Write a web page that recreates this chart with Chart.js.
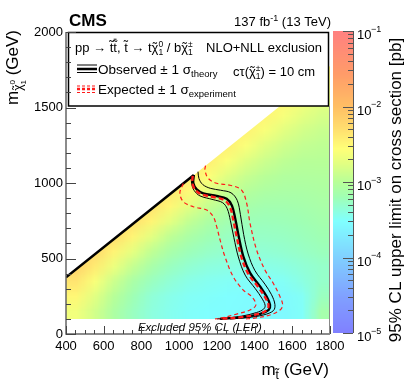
<!DOCTYPE html>
<html lang="en">
<head>
  <meta charset="UTF-8">
  <title>Stop pair exclusion limit</title>
  <script src="https://cdn.jsdelivr.net/npm/chart.js"></script>
  <style>
    body { margin: 0; background: #fff; }
    canvas { display: block; }
  </style>
</head>
<body>
  <canvas id="limitChart" width="407" height="391"></canvas>

  <script>
    const FONT = "'Liberation Sans', Arial, Helvetica, sans-serif";

    // colour map: cell centres in GeV, value = log10(95% CL limit / pb)
    const stopMass = [450, 550, 650, 750, 850, 950, 1050, 1150, 1250, 1350, 1450, 1550, 1650, 1750];
    const lspMass = [150, 250, 350, 450, 550, 650, 750, 850, 950, 1050, 1150, 1250, 1350, 1450, 1550, 1650, 1750];
    const _ = null;
    const logLimit = [
      [-2.65, -2.85, -3.08, -3.25, -3.38, -3.45, -3.5, -3.52, -3.53, -3.55, -3.56, -3.57, -3.5, -3.15],
      [-2.5, -2.75, -3.0, -3.2, -3.35, -3.43, -3.48, -3.5, -3.52, -3.54, -3.56, -3.56, -3.48, -3.25],
      [-2.35, -2.6, -2.88, -3.1, -3.25, -3.35, -3.42, -3.46, -3.48, -3.5, -3.5, -3.48, -3.4, -3.3],
      [-2.2, -2.4, -2.68, -2.92, -3.12, -3.25, -3.33, -3.38, -3.4, -3.42, -3.42, -3.4, -3.35, -3.3],
      [_, -2.25, -2.47, -2.72, -2.95, -3.12, -3.22, -3.28, -3.32, -3.34, -3.34, -3.32, -3.28, -3.24],
      [_, _, -2.28, -2.48, -2.74, -2.96, -3.1, -3.2, -3.26, -3.28, -3.28, -3.27, -3.24, -3.2],
      [_, _, _, -2.3, -2.48, -2.74, -2.94, -3.08, -3.17, -3.22, -3.23, -3.22, -3.2, -3.16],
      [_, _, _, _, -2.32, -2.5, -2.74, -2.92, -3.05, -3.13, -3.17, -3.17, -3.15, -3.12],
      [_, _, _, _, _, -2.35, -2.52, -2.74, -2.9, -3.02, -3.08, -3.1, -3.1, -3.08],
      [_, _, _, _, _, _, -2.4, -2.56, -2.76, -2.9, -2.99, -3.04, -3.05, -3.04],
      [_, _, _, _, _, _, _, -2.42, -2.58, -2.76, -2.88, -2.96, -3.0, -3.0],
      [_, _, _, _, _, _, _, _, -2.44, -2.59, -2.75, -2.86, -2.93, -2.96],
      [_, _, _, _, _, _, _, _, _, -2.46, -2.6, -2.74, -2.84, -2.9],
      [_, _, _, _, _, _, _, _, _, _, -2.48, -2.61, -2.73, -2.82],
      [_, _, _, _, _, _, _, _, _, _, _, -2.5, -2.62, -2.73],
      [_, _, _, _, _, _, _, _, _, _, _, _, -2.5, -2.63],
      [_, _, _, _, _, _, _, _, _, _, _, _, _, -2.52]
    ];

    // contours [m(stop), m(LSP)] in GeV
    const observed = [[1078, 1053], [1075, 1000], [1093, 958], [1128, 932], [1199, 914], [1252, 895], [1280, 850],
      [1298, 760], [1316, 645], [1340, 515], [1376, 405], [1429, 315], [1464, 248], [1482, 192], [1475, 160],
      [1430, 133], [1340, 112], [1217, 100]];
    const observedUp = [[1100, 1075], [1105, 1030], [1125, 990], [1165, 965], [1220, 952], [1275, 935], [1308, 885],
      [1325, 790], [1342, 660], [1366, 530], [1402, 420], [1455, 330], [1490, 260], [1508, 195], [1500, 155],
      [1450, 127], [1360, 108], [1270, 100]];
    const observedDown = [[1065, 1040], [1066, 995], [1080, 950], [1110, 915], [1180, 890], [1230, 870], [1255, 830],
      [1272, 750], [1290, 640], [1314, 510], [1350, 390], [1404, 300], [1438, 238], [1456, 190], [1448, 165],
      [1410, 142], [1330, 118], [1240, 104], [1200, 100]];
    const expected = [[1072, 1047], [1070, 1000], [1085, 955], [1120, 925], [1190, 905], [1242, 885], [1270, 840],
      [1288, 750], [1306, 640], [1330, 510], [1366, 400], [1420, 310], [1455, 245], [1474, 192], [1466, 160],
      [1420, 133], [1330, 112], [1210, 100]];
    const expectedUp = [[1140, 1115], [1137, 1086], [1154, 1031], [1199, 998], [1270, 985], [1330, 955], [1358, 866],
      [1376, 733], [1411, 556], [1455, 424], [1499, 336], [1535, 247], [1549, 192], [1535, 159], [1482, 126],
      [1393, 104], [1350, 100]];
    const expectedDown = [[1022, 997], [1004, 935], [1022, 876], [1075, 843], [1146, 821], [1181, 777], [1199, 711],
      [1217, 623], [1243, 512], [1287, 379], [1340, 291], [1385, 247], [1407, 192], [1376, 159], [1305, 132],
      [1217, 104], [1190, 100]];
    const boundary = [[400, 375], [1078, 1053]];

    const massGap = 25;      // m(stop) - m(LSP) at the kinematic edge
    const lepLimit = 100;    // LSP mass excluded by LEP
    const zMin = -5, zMax = -1;
    const zExponents = [-1, -2, -3, -4, -5];

    const paletteStops = [
      [0.00, 128, 128, 255], [0.12, 128, 160, 255], [0.25, 128, 208, 255], [0.37, 128, 255, 255],
      [0.45, 160, 255, 180], [0.50, 184, 255, 152], [0.56, 225, 255, 130], [0.61, 255, 255, 120],
      [0.68, 255, 220, 110], [0.75, 255, 190, 100], [0.86, 255, 155, 105], [1.00, 255, 128, 128]
    ];

    function paletteRGB(v) {
      const t = Math.min(1, Math.max(0, (v - zMin) / (zMax - zMin)));
      for (let i = 1; i < paletteStops.length; i++) {
        const a = paletteStops[i - 1], b = paletteStops[i];
        if (t <= b[0]) {
          const f = (t - a[0]) / (b[0] - a[0]);
          return [1, 2, 3].map(k => Math.round(a[k] + f * (b[k] - a[k])));
        }
      }
      return paletteStops[paletteStops.length - 1].slice(1);
    }

    function drawColorMap(chart) {
      const { ctx, scales: { x, y } } = chart;
      const cols = stopMass.length, rows = lspMass.length;
      const off = document.createElement('canvas');
      off.width = cols; off.height = rows;
      const octx = off.getContext('2d');
      const img = octx.createImageData(cols, rows);
      logLimit.forEach((row, r) => {
        row.forEach((val, c) => {
          let v = val;
          for (let k = c; v === null && k < cols; k++) v = row[k];  // pad cells beyond the edge
          const [R, G, B] = paletteRGB(v);
          const i = ((rows - 1 - r) * cols + c) * 4;
          img.data[i] = R; img.data[i + 1] = G; img.data[i + 2] = B; img.data[i + 3] = 255;
        });
      });
      octx.putImageData(img, 0, 0);

      ctx.save();
      ctx.beginPath();
      ctx.moveTo(x.getPixelForValue(x.min), y.getPixelForValue(lepLimit));
      ctx.lineTo(x.getPixelForValue(x.max), y.getPixelForValue(lepLimit));
      ctx.lineTo(x.getPixelForValue(x.max), y.getPixelForValue(x.max - massGap));
      ctx.lineTo(x.getPixelForValue(x.min), y.getPixelForValue(x.min - massGap));
      ctx.closePath();
      ctx.clip();
      ctx.imageSmoothingEnabled = true;
      const x0 = x.getPixelForValue(stopMass[0] - 50), x1 = x.getPixelForValue(stopMass[cols - 1] + 50);
      const y0 = y.getPixelForValue(lspMass[rows - 1] + 50), y1 = y.getPixelForValue(lspMass[0] - 50);
      ctx.drawImage(off, x0, y0, x1 - x0, y1 - y0);
      ctx.restore();
    }

    // text with sub/superscripts; parts: {t, size, dy, style, tilde, bar, keep}
    function drawRich(ctx, parts, x, y, align) {
      const fontOf = p => `${p.style || ''} ${p.size}px ${FONT}`;
      const widths = parts.map(p => { ctx.font = fontOf(p); return p.keep ? 0 : ctx.measureText(p.t).width; });
      const total = widths.reduce((a, b) => a + b, 0);
      let cx = align === 'right' ? x - total : align === 'center' ? x - total / 2 : x;
      ctx.textAlign = 'left';
      ctx.textBaseline = 'alphabetic';
      parts.forEach((p, i) => {
        ctx.font = fontOf(p);
        const dy = p.dy || 0;
        ctx.fillText(p.t, cx, y + dy);
        if (p.tilde !== undefined) {
          const w = ctx.measureText(p.t).width;
          ctx.textAlign = 'center';
          ctx.fillText('\u02DC', cx + w / 2, y + dy + p.tilde * p.size);
          ctx.textAlign = 'left';
          if (p.bar) {
            ctx.fillRect(cx + w * 0.1, y + dy - p.size * 1.02, w * 0.8, 0.9);
          }
        }
        cx += widths[i];
      });
    }

    const colorMapPlugin = {
      id: 'colorMap',
      beforeDatasetsDraw(chart) {
        drawColorMap(chart);
        const { ctx, scales: { x, y } } = chart;
        ctx.save();
        ctx.fillStyle = '#000';
        ctx.font = `italic 11.5px ${FONT}`;
        ctx.textAlign = 'center';
        ctx.fillText('Excluded 95% CL (LEP)', x.getPixelForValue(1110), y.getPixelForValue(20));
        ctx.restore();
      }
    };

    const decorPlugin = {
      id: 'decor',
      afterDatasetsDraw(chart) {
        const { ctx, chartArea: a, scales: { x, y } } = chart;
        ctx.save();

        // legend box
        ctx.fillStyle = '#fff';
        ctx.fillRect(68, 32, 261, 74);
        ctx.strokeStyle = '#000';
        ctx.lineWidth = 1.5;
        ctx.strokeRect(68.5, 32.5, 260, 73.5);

        // frame and inward ticks
        ctx.strokeStyle = '#666';
        ctx.lineWidth = 1.5;
        ctx.beginPath();
        ctx.moveTo(a.left, a.top); ctx.lineTo(a.left, a.bottom); ctx.lineTo(a.right, a.bottom);
        ctx.stroke();
        ctx.lineWidth = 1;
        ctx.strokeStyle = '#888';
        ctx.beginPath();
        ctx.moveTo(a.right - 0.5, a.top + 74); ctx.lineTo(a.right - 0.5, a.bottom);
        ctx.stroke();
        ctx.strokeStyle = '#444';
        ctx.beginPath();
        for (let m = x.min; m <= x.max; m += 50) {
          const px = Math.round(x.getPixelForValue(m)) + 0.5;
          ctx.moveTo(px, a.bottom); ctx.lineTo(px, a.bottom - (m % 200 === 0 ? 8 : 4));
        }
        for (let m = y.min; m <= y.max; m += 100) {
          const py = Math.round(y.getPixelForValue(m)) + 0.5;
          ctx.moveTo(a.left, py); ctx.lineTo(a.left + (m % 500 === 0 ? 10 : 5), py);
        }
        ctx.stroke();

        // legend entries
        ctx.lineCap = 'butt';
        [[65, 1], [69, 2.5], [72.5, 1]].forEach(([ly, lw]) => {
          ctx.strokeStyle = '#000'; ctx.lineWidth = lw; ctx.setLineDash([]);
          ctx.beginPath(); ctx.moveTo(77, ly); ctx.lineTo(97, ly); ctx.stroke();
        });
        [[86, 1.2], [89, 2.5], [92.5, 1.2]].forEach(([ly, lw]) => {
          ctx.strokeStyle = '#ff1a1a'; ctx.lineWidth = lw; ctx.setLineDash([3, 2]);
          ctx.beginPath(); ctx.moveTo(77, ly); ctx.lineTo(97, ly); ctx.stroke();
        });
        ctx.setLineDash([]);

        ctx.fillStyle = '#000';
        drawRich(ctx, [
          { t: 'pp \u2192 ', size: 13 },
          { t: 't', size: 13, tilde: -0.12 },
          { t: 't', size: 13, tilde: -0.12, bar: true },
          { t: ', ', size: 13 },
          { t: 't', size: 13, tilde: -0.12 },
          { t: ' \u2192 t', size: 13 },
          { t: '\u03C7', size: 13, tilde: 0 },
          { t: '0', size: 8.5, dy: -5, keep: true },
          { t: '1', size: 8.5, dy: 3 },
          { t: ' / b', size: 13 },
          { t: '\u03C7', size: 13, tilde: 0 },
          { t: '\u00B1', size: 8.5, dy: -5, keep: true },
          { t: '1', size: 8.5, dy: 3 }
        ], 75, 52);
        drawRich(ctx, [{ t: 'NLO+NLL exclusion', size: 13 }], 322, 52, 'right');
        drawRich(ctx, [
          { t: 'Observed \u00B1 1 \u03C3', size: 13.5 },
          { t: 'theory', size: 9.5, dy: 3 }
        ], 98, 74);
        drawRich(ctx, [
          { t: 'Expected \u00B1 1 \u03C3', size: 13.5 },
          { t: 'experiment', size: 9.5, dy: 3 }
        ], 98, 94);
        drawRich(ctx, [
          { t: 'c\u03C4(', size: 13 },
          { t: '\u03C7', size: 13, tilde: 0 },
          { t: '\u00B1', size: 8.5, dy: -5, keep: true },
          { t: '1', size: 8.5, dy: 3 },
          { t: ') = 10 cm', size: 13 }
        ], 233, 75.5);

        // header
        ctx.font = `bold 17px ${FONT}`;
        ctx.fillText('CMS', 69, 26);
        drawRich(ctx, [
          { t: '137 fb', size: 13 },
          { t: '-1', size: 9, dy: -5 },
          { t: ' (13 TeV)', size: 13 }
        ], 331, 26, 'right');

        // axis titles
        drawRich(ctx, [
          { t: 'm', size: 17 },
          { t: 't', size: 12, dy: 4, tilde: -0.12 },
          { t: ' (GeV)', size: 17 }
        ], 329, 375, 'right');
        ctx.save();
        ctx.translate(18, 30);
        ctx.rotate(-Math.PI / 2);
        drawRich(ctx, [
          { t: 'm', size: 17 },
          { t: '\u03C7', size: 12, dy: 4, tilde: 0 },
          { t: '0', size: 8, dy: -3, keep: true },
          { t: '1', size: 8, dy: 8 },
          { t: ' (GeV)', size: 17 }
        ], 0, 0, 'right');
        ctx.restore();

        // colour bar
        const bl = a.right + 3, bw = 20, bt = a.top - 1, bb = a.bottom - 1, bh = bb - bt;
        for (let py = bt; py < bb; py++) {
          const v = zMax - ((py + 0.5 - bt) / bh) * (zMax - zMin);
          const [R, G, B] = paletteRGB(v);
          ctx.fillStyle = `rgb(${R},${G},${B})`;
          ctx.fillRect(bl, py, bw, 1);
        }
        const zPix = v => bb - ((v - zMin) / (zMax - zMin)) * bh;
        ctx.strokeStyle = '#555';
        ctx.lineWidth = 1;
        ctx.beginPath();
        ctx.moveTo(bl + bw + 0.5, bt); ctx.lineTo(bl + bw + 0.5, bb);
        for (let e = zMin; e <= zMax; e++) {
          const py = Math.round(zPix(e)) + 0.5;
          ctx.moveTo(bl + bw, py); ctx.lineTo(bl + bw - 10, py);
          if (e === zMax) continue;
          for (let k = 2; k <= 9; k++) {
            const pm = Math.round(zPix(e + Math.log10(k))) + 0.5;
            ctx.moveTo(bl + bw, pm); ctx.lineTo(bl + bw - 5, pm);
          }
        }
        ctx.stroke();
        ctx.fillStyle = '#000';
        zExponents.forEach(e => {
          const py = zPix(e);
          drawRich(ctx, [{ t: '10', size: 13 }], 357, py + 8);
          drawRich(ctx, [{ t: '\u2212' + Math.abs(e), size: 9 }], 371, py + 0.5);
        });
        ctx.save();
        ctx.translate(401, 190);
        ctx.rotate(-Math.PI / 2);
        drawRich(ctx, [{ t: '95% CL upper limit on cross section [pb]', size: 17 }], 0, 0, 'center');
        ctx.restore();

        ctx.restore();
      }
    };

    const curve = (pts, color, width, dash) => ({
      data: pts.map(([mx, my]) => ({ x: mx, y: my })),
      showLine: true,
      borderColor: color,
      borderWidth: width,
      borderDash: dash,
      pointRadius: 0,
      tension: 0.35,
      fill: false
    });

    const axisTicks = step => ({
      stepSize: step,
      color: '#000',
      font: { family: FONT, size: 13 },
      maxRotation: 0,
      autoSkip: false,
      callback: v => String(v)
    });

    new Chart(document.getElementById('limitChart'), {
      type: 'scatter',
      data: {
        datasets: [
          curve(expected, '#ff1a1a', 2.4, [5, 3]),
          curve(expectedUp, '#ff1a1a', 1.2, [4, 3]),
          curve(expectedDown, '#ff1a1a', 1.2, [4, 3]),
          curve(observed, '#000', 2.4, []),
          curve(observedUp, '#000', 1, []),
          curve(observedDown, '#000', 1, []),
          curve(boundary, '#000', 2.5, [])
        ]
      },
      options: {
        responsive: false,
        animation: false,
        devicePixelRatio: 1,
        layout: { padding: { top: 32, right: 77, left: 0, bottom: 0 } },
        plugins: { legend: { display: false }, tooltip: { enabled: false } },
        scales: {
          x: {
            type: 'linear', min: 400, max: 1800,
            grid: { display: false, drawTicks: false },
            border: { display: false },
            ticks: { ...axisTicks(200), padding: 5 },
            afterFit: s => { s.height = 57; }
          },
          y: {
            type: 'linear', min: 0, max: 2000,
            grid: { display: false, drawTicks: false },
            border: { display: false },
            ticks: { ...axisTicks(500), padding: 3 },
            afterFit: s => { s.width = 66; }
          }
        }
      },
      plugins: [colorMapPlugin, decorPlugin]
    });
  </script>
</body>
</html>
